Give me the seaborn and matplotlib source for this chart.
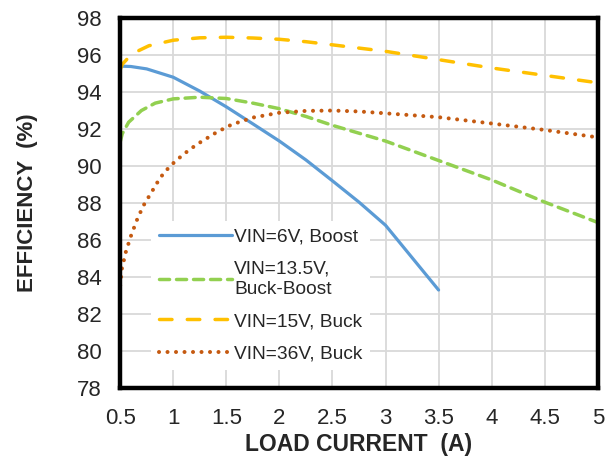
import numpy as np
import pandas as pd
import matplotlib
matplotlib.use("Agg")
import matplotlib.pyplot as plt
import seaborn as sns

# Dados (corrente de carga em A, eficiência em %)
x_6v = [0.5, 0.6, 0.75, 1.0, 1.25, 1.5, 1.75, 2.0, 2.25, 2.5, 2.75, 3.0, 3.25, 3.5]
ef_6v = [95.4, 95.38, 95.25, 94.8, 94.05, 93.2, 92.28, 91.35, 90.33, 89.2, 88.05, 86.8, 85.05, 83.3]

x_13v = [0.5, 0.52, 0.58, 0.7, 0.83, 1.0, 1.25, 1.5, 1.75, 2.0, 2.25, 2.5, 3.0, 3.5, 4.0, 4.5, 5.0]
ef_13v = [91.3, 91.75, 92.37, 93.0, 93.4, 93.63, 93.72, 93.65, 93.4, 93.1, 92.68, 92.2, 91.35, 90.3, 89.25, 88.05, 86.95]

x_15v = [0.5, 0.52, 0.61, 0.77, 1.0, 1.25, 1.5, 1.75, 2.0, 2.25, 2.5, 3.0, 3.5, 4.0, 4.5, 5.0]
ef_15v = [95.2, 95.5, 96.06, 96.5, 96.8, 96.93, 96.96, 96.92, 96.85, 96.72, 96.55, 96.2, 95.75, 95.3, 94.9, 94.5]

x_36v = [0.5, 0.516, 0.553, 0.6, 0.656, 0.718, 0.797, 0.877, 0.97, 1.093, 1.22, 1.41, 1.55, 1.75, 2.0, 2.25, 2.5,
         2.75, 3.0, 3.5, 4.0, 4.5, 5.0]
ef_36v = [83.55, 84.45, 85.35, 86.2, 87.06, 87.85, 88.6, 89.37, 90.0, 90.62, 91.16, 91.83, 92.24, 92.62, 92.88, 92.98,
          93.0, 92.95, 92.85, 92.64, 92.3, 91.95, 91.55]

legendas = ["VIN=6V, Boost", "VIN=13.5V,\nBuck-Boost", "VIN=15V, Buck", "VIN=36V, Buck"]
cores = ["#5B9BD5", "#92D050", "#FFC000", "#C55A11"]

sns.set_style("white")
plt.rcParams["font.family"] = ["Liberation Sans", "DejaVu Sans"]

fig = plt.figure(figsize=(6.1, 4.62), dpi=100)
ax = fig.add_axes([0.197, 0.160, 0.783, 0.801])

series = [(x_6v, ef_6v), (x_13v, ef_13v), (x_15v, ef_15v), (x_36v, ef_36v)]
estilos = [
    dict(linestyle="-", lw=2.3),
    dict(dashes=(2.9, 2.0), lw=2.5, dash_capstyle="round"),
    dict(dashes=(3.6, 4.4), lw=2.5, dash_capstyle="round"),
    dict(dashes=(0.01, 2.1), lw=2.9, dash_capstyle="round"),
]

for (xs, ys), nome, cor, est in zip(series, legendas, cores, estilos):
    tmp = pd.DataFrame({"x": xs, "y": ys})
    sns.lineplot(data=tmp, x="x", y="y", ax=ax, color=cor, label=nome, sort=False, **est)

ax.set_xlim(0.5, 5)
ax.set_ylim(78, 98)
ax.set_xticks(np.arange(0.5, 5.01, 0.5))
ax.set_xticklabels(["0.5", "1", "1.5", "2", "2.5", "3", "3.5", "4", "4.5", "5"])
ax.set_yticks(np.arange(78, 98.1, 2))
ax.grid(True, color="#D9D9D9", lw=1.3)
ax.tick_params(axis="both", labelsize=16, length=0)
ax.tick_params(axis="x", pad=14)
ax.tick_params(axis="y", pad=13)
for s in ax.spines.values():
    s.set_visible(True)
    s.set_color("black")
    s.set_linewidth(3.2)

ax.set_xlabel("LOAD CURRENT  (A)", fontsize=16.5, fontweight="bold", labelpad=3)
ax.set_ylabel("EFFICIENCY  (%)", fontsize=16, fontweight="bold", labelpad=28)

leg = ax.legend(loc="lower left", bbox_to_anchor=(0.045, 0.022), fontsize=13.8,
                frameon=True, facecolor="white", edgecolor="none", framealpha=1,
                fancybox=False, handlelength=3.8, labelspacing=0.79, handletextpad=0.12,
                borderpad=0.4)

fig.savefig("out.png", dpi=100)
